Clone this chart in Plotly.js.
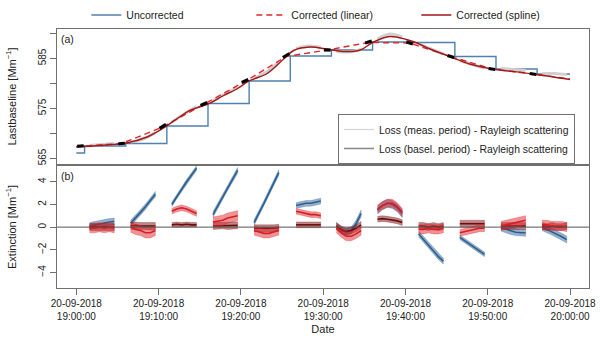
<!DOCTYPE html>
<html>
<head>
<meta charset="utf-8">
<script src="https://cdn.plot.ly/plotly-3.0.1.min.js"></script>
<style>
  html, body { margin: 0; padding: 0; background: #fff; }
  #plot { width: 600px; height: 341px; }
</style>
</head>
<body>
<div id="plot"></div>
<script>
//------------------------------------------------------------------------------
// time is in minutes after 20-09-2018 19:00:00

const tickMinutes = [0, 10, 20, 30, 40, 50, 60];
const tickLabels = [
  '20-09-2018<br>19:00:00', '20-09-2018<br>19:10:00', '20-09-2018<br>19:20:00',
  '20-09-2018<br>19:30:00', '20-09-2018<br>19:40:00', '20-09-2018<br>19:50:00',
  '20-09-2018<br>20:00:00'
];

// (a) uncorrected baseline : value held from each step time
const stepTimes  = [0, 1, 6, 11, 16, 21, 26, 31, 36, 41, 46, 51, 56, 60];
const stepValues = [566.1, 567.5, 568.0, 571.5, 576.0, 580.5, 585.5, 586.7, 588.3, 588.2, 585.4, 582.9, 581.9, 581.9];

// (a) corrected baseline, linear between baseline periods
const linTimes  = [0, 0.5, 5.5, 10.5, 15.5, 20.5, 25.5, 30.5, 35.5, 40.5, 45.5, 50.5, 55.5, 60];
const linValues = [567.4, 567.45, 568.0, 571.3, 575.9, 580.4, 585.4, 586.7, 588.2, 588.1, 585.4, 582.9, 581.9, 580.9];

// (a) corrected baseline, spline
const splTimes  = [0, 2.9, 6.1, 8.6, 10.4, 12.2, 13.8, 16.0, 17.9, 19.5, 21.1, 23.1, 25.2, 26.4, 28.4,
                   30.4, 32.4, 34.5, 36.1, 38.1, 40.1, 41.4, 43.0, 45.5, 47.8, 50.5, 53.1, 55.5, 60];
const splValues = [567.3, 567.6, 568.1, 569.3, 570.9, 572.9, 574.6, 575.9, 577.6, 578.9, 580.6, 581.9, 584.9, 586.6, 587.3,
                   586.9, 586.4, 586.7, 588.3, 589.4, 588.8, 588.1, 586.9, 585.3, 583.9, 582.9, 582.4, 581.9, 580.8];

// (a) loss during baseline periods
const baselStart = [0.1, 5.1, 10.1, 15.1, 20.1, 25.1, 30.1, 35.1, 40.1, 45.1, 50.1, 55.1];
const baselEnd   = [0.9, 5.9, 10.9, 15.9, 20.9, 25.9, 30.9, 35.9, 40.9, 45.9, 50.9, 55.9];
const baselV0    = [567.45, 567.95, 571.0, 575.6, 580.2, 585.2, 586.7, 588.1, 588.3, 585.6, 583.0, 582.0];
const baselV1    = [567.55, 568.05, 571.8, 576.2, 580.8, 586.0, 586.7, 588.5, 587.9, 585.2, 582.8, 581.8];

// measurement periods (both panels)
const measStart = [1.6, 6.6, 11.6, 16.6, 21.6, 26.7, 31.6, 36.6, 41.6, 46.6, 51.6, 56.6];
const lossOffsets = [0, 1.5, 3.0];
const lossMeas = [
  [567.6, 567.8, 568.0], [568.3, 568.9, 570.2], [572.3, 573.9, 575.4], [576.5, 577.9, 579.2],
  [581.0, 582.3, 584.2], [587.0, 587.5, 587.2], [586.4, 586.3, 586.8], [588.9, 589.9, 589.3],
  [587.9, 586.9, 585.9], [584.6, 583.8, 583.1], [583.0, 582.8, 582.6], [582.0, 582.0, 581.8]
];

// (b) extinction : centre of the noisy trace and its half spread
const sampleOffsets = [0, 0.6, 1.2, 1.8, 2.4, 3.0];
const extUncorr = [
  [0.1, 0.2, 0.25, 0.35, 0.45, 0.5], [0.35, 0.8, 1.3, 1.8, 2.4, 2.9], [2.0, 2.7, 3.4, 4.0, 4.6, 5.2],
  [1.1, 1.9, 2.7, 3.5, 4.3, 5.0], [0.4, 1.2, 2.1, 3.0, 3.9, 4.8], [1.9, 2.0, 2.1, 2.1, 2.2, 2.3],
  [0.1, -0.3, -0.4, -0.3, 0.3, 1.2], [1.5, 1.9, 2.1, 2.0, 1.7, 1.2], [-0.6, -1.1, -1.6, -2.1, -2.6, -3.0],
  [-0.9, -1.2, -1.5, -1.8, -2.1, -2.4], [-0.05, -0.2, -0.35, -0.45, -0.5, -0.5], [0.0, -0.2, -0.4, -0.6, -0.85, -1.1]
];
const spreadUncorr = [0.3, 0.25, 0.2, 0.25, 0.25, 0.25, 0.3, 0.35, 0.25, 0.2, 0.3, 0.3];
const extLinear = [
  [-0.1, -0.1, 0.0, -0.1, 0.0, -0.1], [0.0, -0.2, -0.3, -0.5, -0.5, -0.3], [1.4, 1.6, 1.7, 1.6, 1.4, 1.2],
  [0.45, 0.5, 0.6, 0.8, 0.9, 1.0], [-0.3, -0.45, -0.55, -0.55, -0.45, -0.3], [1.4, 1.3, 1.2, 1.1, 1.1, 1.0],
  [-0.1, -0.5, -0.8, -0.8, -0.6, -0.3], [1.6, 1.9, 2.1, 2.1, 1.8, 1.3], [-0.2, -0.2, -0.1, -0.2, -0.2, -0.1],
  [-0.5, -0.4, -0.3, -0.2, -0.1, -0.1], [0.1, 0.2, 0.3, 0.4, 0.5, 0.6], [0.2, 0.2, 0.1, 0.1, 0.1, 0.0]
];
const spreadLinear = [0.4, 0.45, 0.25, 0.45, 0.4, 0.25, 0.4, 0.35, 0.4, 0.3, 0.4, 0.4];
const extSpline = [
  [0.0, 0.05, 0.0, 0.05, 0.0, 0.0], [0.1, 0.15, 0.1, 0.1, 0.05, 0.1], [0.2, 0.25, 0.2, 0.25, 0.2, 0.2],
  [0.1, 0.1, 0.15, 0.1, 0.1, 0.15], [-0.1, -0.1, -0.15, -0.1, -0.1, -0.05], [0.2, 0.2, 0.15, 0.15, 0.2, 0.2],
  [0.1, -0.2, -0.4, -0.3, -0.1, 0.2], [0.7, 0.75, 0.7, 0.65, 0.55, 0.4], [0.1, 0.1, 0.0, 0.1, 0.0, 0.1],
  [0.3, 0.3, 0.35, 0.3, 0.3, 0.3], [0.1, 0.1, 0.1, 0.1, 0.1, 0.1], [0.1, 0.0, 0.1, 0.0, 0.0, 0.1]
];
const spreadSpline = [0.3, 0.3, 0.2, 0.3, 0.3, 0.25, 0.3, 0.25, 0.3, 0.3, 0.3, 0.3];

//------------------------------------------------------------------------------

const
frame = '#707070',
colUncorr = '#4f81ad',
colLinear = '#e0262b',
colSpline = '#a11919',
xRange = [-2.35, 62.3],
xDomain = [0, 0.9797];   // right margin kept inside the paper so legends get no padding push

const traces = [];

// (a)
traces.push({
  x: stepTimes, y: stepValues, xaxis: 'x', yaxis: 'y', type: 'scatter', mode: 'lines',
  line: {shape: 'hv', color: colUncorr, width: 1.4},
  name: 'Uncorrected', legendrank: 1
});
measStart.forEach((t0, i) => {
  traces.push({
    x: lossOffsets.map(o => t0 + o), y: lossMeas[i], xaxis: 'x', yaxis: 'y',
    type: 'scatter', mode: 'lines', line: {color: '#cfcfcf', width: 3, shape: 'spline'},
    showlegend: false, hoverinfo: 'skip'
  });
});
traces.push({
  x: linTimes, y: linValues, xaxis: 'x', yaxis: 'y', type: 'scatter', mode: 'lines',
  line: {color: colLinear, width: 1.4, dash: '6px,4px'},
  name: 'Corrected (linear)', legendrank: 2
});
traces.push({
  x: splTimes, y: splValues, xaxis: 'x', yaxis: 'y', type: 'scatter', mode: 'lines',
  line: {color: colSpline, width: 1.4, shape: 'spline'},
  name: 'Corrected (spline)', legendrank: 3
});
baselStart.forEach((t0, i) => {
  traces.push({
    x: [t0, baselEnd[i]], y: [baselV0[i], baselV1[i]], xaxis: 'x', yaxis: 'y',
    type: 'scatter', mode: 'lines', line: {color: '#000', width: 3.2},
    showlegend: false, hoverinfo: 'skip'
  });
});
// entries of the inner legend
traces.push({
  x: [null], y: [null], xaxis: 'x', yaxis: 'y', type: 'scatter', mode: 'lines',
  line: {color: '#d4d4d4', width: 1.2}, legend: 'legend2',
  name: 'Loss (meas. period) - Rayleigh scattering'
});
traces.push({
  x: [null], y: [null], xaxis: 'x', yaxis: 'y', type: 'scatter', mode: 'lines',
  line: {color: '#8c8c8c', width: 1.6}, legend: 'legend2',
  name: 'Loss (basel. period) - Rayleigh scattering'
});

// (b) : one band per measurement period
function band(t0, centre, spread, fill, edge) {
  const xs = sampleOffsets.map(o => t0 + o);
  return [
    {
      x: xs.concat(xs.slice().reverse()),
      y: centre.map(v => v + spread).concat(centre.map(v => v - spread).reverse()),
      xaxis: 'x2', yaxis: 'y2', type: 'scatter', mode: 'lines', fill: 'toself',
      fillcolor: fill, line: {color: fill, width: 0.6},
      showlegend: false, hoverinfo: 'skip'
    },
    {
      x: xs, y: centre, xaxis: 'x2', yaxis: 'y2', type: 'scatter', mode: 'lines',
      line: {color: edge, width: 1.6}, showlegend: false, hoverinfo: 'skip'
    }
  ];
}
[
  [extUncorr, spreadUncorr, 'rgba(47,99,150,0.5)', '#2b5f91'],
  [extSpline, spreadSpline, 'rgba(125,16,16,0.5)', '#6e0b0b'],
  [extLinear, spreadLinear, 'rgba(224,38,43,0.5)', '#d31f25']
].forEach(([ext, spread, fill, edge]) => {
  measStart.forEach((t0, i) => traces.push(...band(t0, ext[i], spread[i], fill, edge)));
});

//------------------------------------------------------------------------------

const axisFont = {family: 'Liberation Sans, Arial, sans-serif', size: 10, color: '#222'};

const layout = {
  width: 600, height: 341,
  margin: {l: 57, r: 0, t: 29, b: 53},
  paper_bgcolor: '#fff', plot_bgcolor: '#fff',
  font: axisFont,
  showlegend: true,
  xaxis: {
    anchor: 'y', domain: xDomain, range: xRange, showticklabels: false, ticks: '',
    showgrid: false, zeroline: false, showline: true, mirror: true, linecolor: frame, linewidth: 1
  },
  xaxis2: {
    anchor: 'y2', domain: xDomain, range: xRange, tickvals: tickMinutes, ticktext: tickLabels,
    ticks: 'outside', ticklen: 6, tickcolor: frame, showgrid: false, zeroline: false,
    showline: true, mirror: true, linecolor: frame, linewidth: 1, tickfont: axisFont,
    title: {text: 'Date', font: {size: 11}, standoff: 4}
  },
  yaxis: {
    domain: [0.4788, 1], range: [563.9, 590.9],
    tickvals: [565, 570, 575, 580, 585, 590], ticktext: ['565', '', '575', '', '585', ''],
    tickangle: -90, ticks: 'outside', ticklen: 6, tickcolor: frame, showgrid: false, zeroline: false,
    showline: true, mirror: true, linecolor: frame, linewidth: 1,
    title: {text: 'Lastbaseline [Mm<sup>−1</sup>]', font: {size: 11}, standoff: 18}
  },
  yaxis2: {
    domain: [0, 0.471], range: [-5.37, 5.39], tickvals: [-4, -2, 0, 2, 4],
    tickangle: -90, ticks: 'outside', ticklen: 6, tickcolor: frame, showgrid: false, zeroline: false,
    showline: true, mirror: true, linecolor: frame, linewidth: 1,
    title: {text: 'Extinction [Mm<sup>−1</sup>]', font: {size: 11}, standoff: 18}
  },
  legend: {
    orientation: 'h', x: 0.054, y: 1.11, xanchor: 'left', yanchor: 'top',
    entrywidth: 120, entrywidthmode: 'pixels', bgcolor: 'rgba(0,0,0,0)',
    font: {size: 10.5}
  },
  legend2: {
    x: 0.5175, y: 0.4788, xanchor: 'left', yanchor: 'bottom',
    bgcolor: '#fff', bordercolor: frame, borderwidth: 1, font: {size: 10.4}
  },
  shapes: [{
    type: 'line', xref: 'x2 domain', yref: 'y2', x0: 0, x1: 1, y0: 0, y1: 0,
    line: {color: '#555', width: 1}, layer: 'above'
  }],
  annotations: [
    {text: '(a)', xref: 'x domain', yref: 'y domain', x: 0.004, y: 0.985,
     xanchor: 'left', yanchor: 'top', showarrow: false, font: {size: 10.5}},
    {text: '(b)', xref: 'x2 domain', yref: 'y2 domain', x: 0.004, y: 0.98,
     xanchor: 'left', yanchor: 'top', showarrow: false, font: {size: 10.5}}
  ]
};

Plotly.newPlot(document.getElementById('plot'), traces, layout, {displayModeBar: false, staticPlot: true});
</script>
</body>
</html>
